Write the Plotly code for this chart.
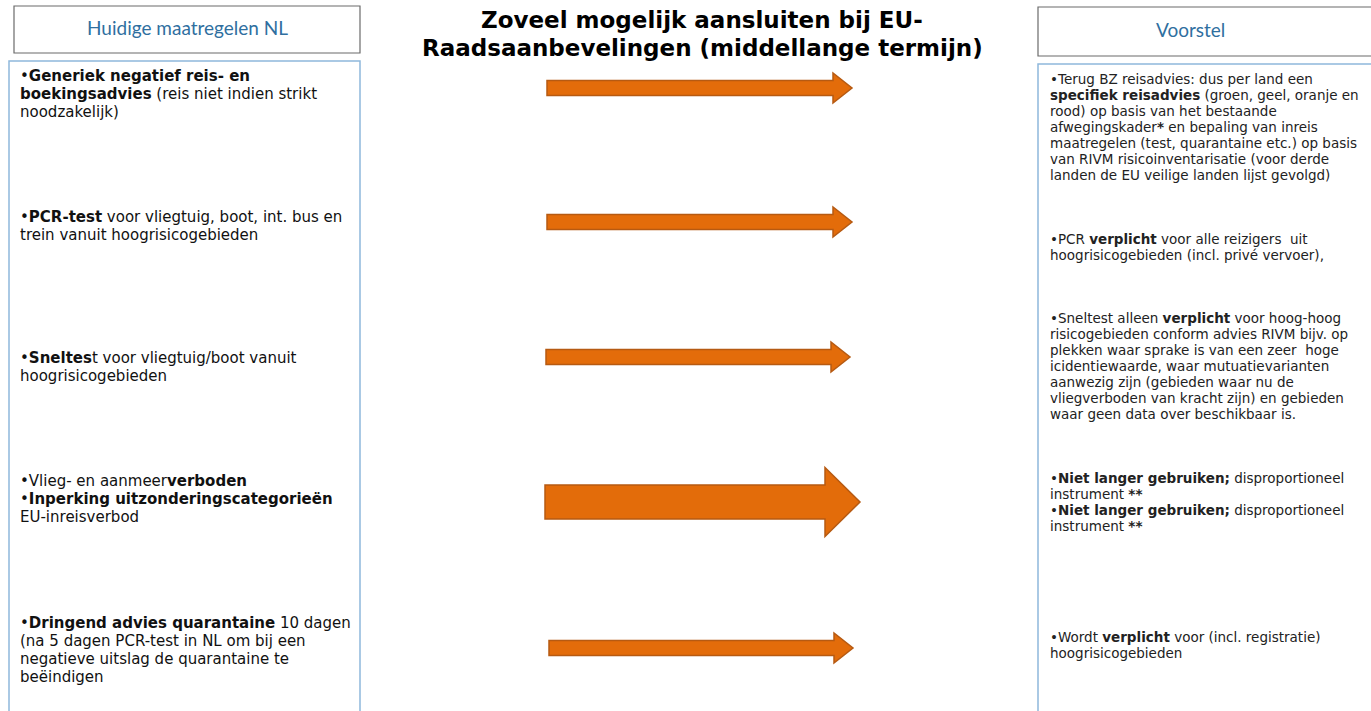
import plotly.graph_objects as go

W, H = 1371, 711

title_lines = ["Zoveel mogelijk aansluiten bij EU-", "Raadsaanbevelingen (middellange termijn)"]
left_header = "Huidige maatregelen NL"
right_header = "Voorstel"

left_items = [
    ["•<b>Generiek negatief reis- en</b>", "<b>boekingsadvies</b> (reis niet indien strikt", "noodzakelijk)"],
    ["•<b>PCR-test</b> voor vliegtuig, boot, int. bus en", "trein vanuit hoogrisicogebieden"],
    ["•<b>Sneltes</b>t voor vliegtuig/boot vanuit", "hoogrisicogebieden"],
    ["•Vlieg- en aanmeer<b>verboden</b>", "•<b>Inperking uitzonderingscategorieën</b>", "EU-inreisverbod"],
    ["•<b>Dringend advies quarantaine</b> 10 dagen", "(na 5 dagen PCR-test in NL om bij een",
     "negatieve uitslag de quarantaine te", "beëindigen"],
]
left_item_y = [76, 217, 358, 481, 623]

right_items = [
    ["•Terug BZ reisadvies: dus per land een", "<b>specifiek reisadvies</b> (groen, geel, oranje en",
     "rood) op basis van het bestaande", "afwegingskader<b>*</b> en bepaling van inreis",
     "maatregelen (test, quarantaine etc.) op basis", "van RIVM risicoinventarisatie (voor derde",
     "landen de EU veilige landen lijst gevolgd)"],
    ["•PCR <b>verplicht</b> voor alle reizigers  uit", "hoogrisicogebieden (incl. privé vervoer),"],
    ["•Sneltest alleen <b>verplicht</b> voor hoog-hoog", "risicogebieden conform advies RIVM bijv. op",
     "plekken waar sprake is van een zeer  hoge", "icidentiewaarde, waar mutuatievarianten",
     "aanwezig zijn (gebieden waar nu de", "vliegverboden van kracht zijn) en gebieden",
     "waar geen data over beschikbaar is."],
    ["•<b>Niet langer gebruiken;</b> disproportioneel", "instrument <b>**</b>",
     "•<b>Niet langer gebruiken;</b> disproportioneel", "instrument <b>**</b>"],
    ["•Wordt <b>verplicht</b> voor (incl. registratie)", "hoogrisicogebieden"],
]
right_item_y = [79, 239, 318, 478, 637]

# arrows: (x_start, x_tip, y_center, shaft_height, head_height, head_length)
arrows = [
    (547, 852, 88, 15, 30, 19),
    (547, 852, 222, 15, 30, 19),
    (546, 850, 357, 15, 30, 19),
    (545, 860, 502, 34, 69, 35),
    (549, 853, 648, 15, 30, 19),
]

fig = go.Figure()
fig.add_trace(go.Scatter(x=[0, W], y=[0, H], mode="markers", marker=dict(opacity=0), hoverinfo="skip", showlegend=False))

shapes = []
shapes.append(dict(type="rect", x0=14, x1=360, y0=6, y1=53, line=dict(color="#6b6b6b", width=1.2), fillcolor="white"))
shapes.append(dict(type="rect", x0=9, x1=360, y0=61, y1=716, line=dict(color="#8fb8dc", width=1.5), fillcolor="white"))
shapes.append(dict(type="rect", x0=1038, x1=1376, y0=7, y1=56, line=dict(color="#6b6b6b", width=1.2), fillcolor="white"))
shapes.append(dict(type="rect", x0=1038, x1=1376, y0=64, y1=716, line=dict(color="#8fb8dc", width=1.5), fillcolor="white"))

for xs, xt, yc, sh, hh, hl in arrows:
    xh = xt - hl
    path = (f"M {xs},{yc - sh/2} L {xh},{yc - sh/2} L {xh},{yc - hh/2} L {xt},{yc} "
            f"L {xh},{yc + hh/2} L {xh},{yc + sh/2} L {xs},{yc + sh/2} Z")
    shapes.append(dict(type="path", path=path, fillcolor="#e36c0a", line=dict(color="#b65a12", width=1.5)))

annotations = []
for i, t in enumerate(title_lines):
    annotations.append(dict(x=702, y=20 + 28 * i, text=f"<b>{t}</b>", showarrow=False, xanchor="center", yanchor="middle",
                            font=dict(family="DejaVu Sans", size=23, color="black")))
annotations.append(dict(x=187, y=27, text=left_header, showarrow=False, xanchor="center", yanchor="middle",
                        font=dict(family="Lato", size=19, color="#2f6f9f")))
annotations.append(dict(x=1190, y=29, text=right_header, showarrow=False, xanchor="center", yanchor="middle",
                        font=dict(family="Lato", size=19, color="#2f6f9f")))

for lines, y0 in zip(left_items, left_item_y):
    for j, ln in enumerate(lines):
        annotations.append(dict(x=18, y=y0 + 18 * j, text=ln, showarrow=False, xanchor="left", yanchor="middle",
                                font=dict(family="DejaVu Sans", size=15, color="#111111")))
for lines, y0 in zip(right_items, right_item_y):
    for j, ln in enumerate(lines):
        annotations.append(dict(x=1048, y=y0 + 16 * j, text=ln, showarrow=False, xanchor="left", yanchor="middle",
                                font=dict(family="DejaVu Sans", size=13.5, color="#222222")))

fig.update_layout(
    width=W, height=H, margin=dict(l=0, r=0, t=0, b=0),
    paper_bgcolor="white", plot_bgcolor="white",
    xaxis=dict(range=[0, W], visible=False, fixedrange=True),
    yaxis=dict(range=[H, 0], visible=False, fixedrange=True),
    shapes=shapes, annotations=annotations, showlegend=False,
)
fig.write_html("out.html", config={"displayModeBar": False},
               post_script="document.body.style.margin='0';document.body.style.overflow='hidden';")
